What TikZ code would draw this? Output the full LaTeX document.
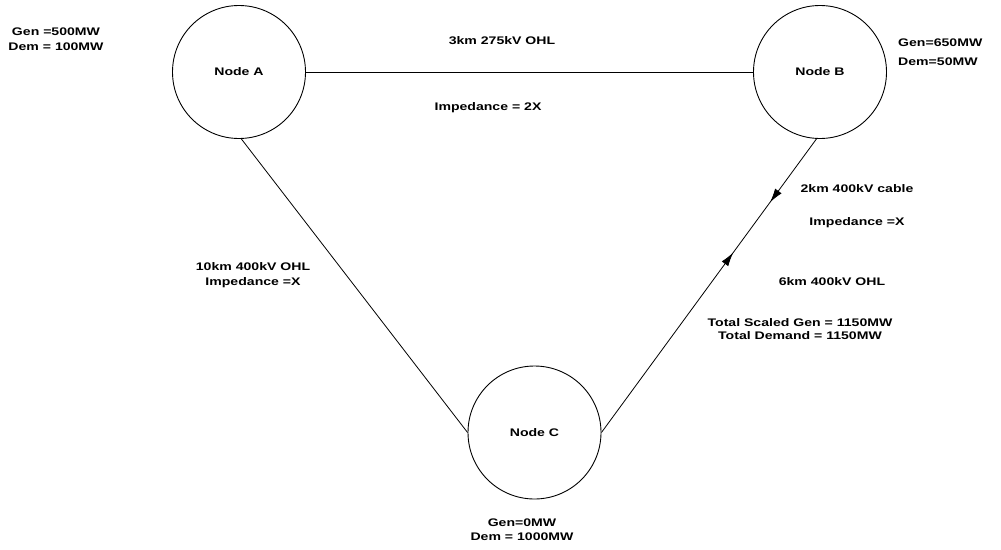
\documentclass[tikz,border=0pt]{standalone}
\usepackage{fontspec}
\newfontfamily\lblfont{Liberation Sans}[FakeStretch=1.28]
\usetikzlibrary{arrows.meta,decorations.markings}
\tikzset{
  bus/.style={circle,draw,line width=0.9pt,minimum size=133pt,inner sep=0pt,font=\lblfont\bfseries\fontsize{11}{12}\selectfont},
  lbl/.style={inner sep=0pt,align=center,font=\lblfont\bfseries\fontsize{11}{12}\selectfont},
  line/.style={line width=0.8pt}
}
\begin{document}
\begin{tikzpicture}[x=1pt,y=-1pt]
\useasboundingbox (0,0) rectangle (1001,549);
\node[bus] (A) at (239,72) {Node A};
\node[bus] (B) at (820,72) {Node B};
\node[bus] (C) at (534.5,432.5) {Node C};

\draw[line] (A.east) -- (B.west);
\draw[line] (A.-88) -- (C.west);
\draw[line,decoration={markings,
   mark=at position 0.216 with {\arrow{Latex[length=14pt,width=8pt]}},
   mark=at position 0.387 with {\arrowreversed{Latex[length=14pt,width=8pt]}}},postaction=decorate]
   (B.-93) -- (C.east);

\node[lbl] (ga) at (56,39.5) {Gen =500MW\\[3pt]Dem = 100MW};
\node[lbl,align=left,anchor=west] (gb) at (898,52.5) {Gen=650MW\\[7pt]Dem=50MW};
\node[lbl] (gc) at (522,530) {Gen=0MW\\[2pt]Dem = 1000MW};
\node[lbl] (t1) at (502,41) {3km 275kV OHL};
\node[lbl] (t2) at (488,108) {Impedance = 2X};
\node[lbl] (t3) at (253,275.5) {10km 400kV OHL\\[3pt]Impedance =X};
\node[lbl] (t4) at (857,189) {2km 400kV cable};
\node[lbl] (t5) at (857,223) {Impedance =X};
\node[lbl] (t6) at (832,282) {6km 400kV OHL};
\node[lbl] (t7) at (800,329) {Total Scaled Gen = 1150MW\\[0.5pt]Total Demand = 1150MW};
\end{tikzpicture}
\end{document}
